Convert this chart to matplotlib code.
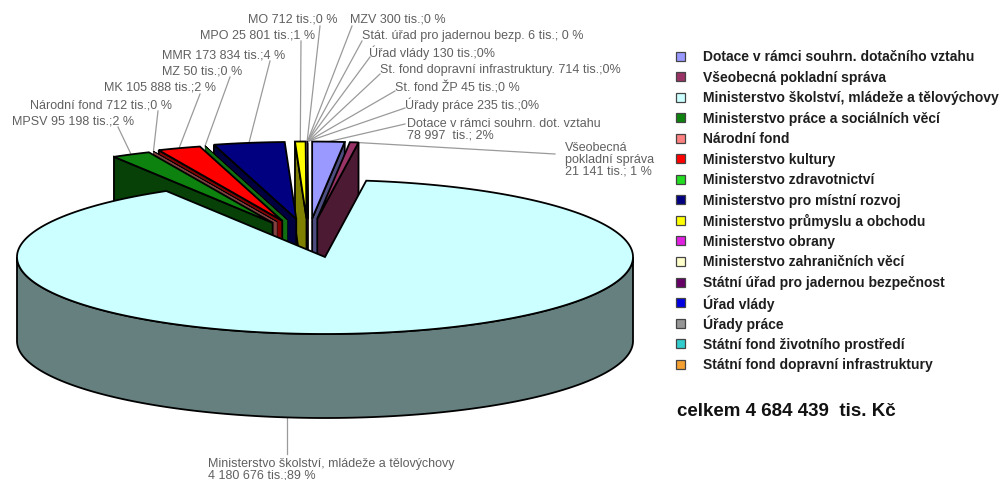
import numpy as np
import matplotlib
matplotlib.use("Agg")
import matplotlib.pyplot as plt
from matplotlib.patches import Polygon, Rectangle
from matplotlib.colors import to_rgb

plt.rcParams['font.family'] = ['Liberation Sans', 'DejaVu Sans']

# --- data (tis. Kč), order of slices clockwise from 12 o'clock ---
kategorie = [
    "Dotace v rámci souhrn. dotačního vztahu",
    "Všeobecná pokladní správa",
    "Ministerstvo školství, mládeže a tělovýchovy",
    "Ministerstvo práce a sociálních věcí",
    "Národní fond",
    "Ministerstvo kultury",
    "Ministerstvo zdravotnictví",
    "Ministerstvo pro místní rozvoj",
    "Ministerstvo průmyslu a obchodu",
    "Ministerstvo obrany",
    "Ministerstvo zahraničních věcí",
    "Státní úřad pro jadernou bezpečnost",
    "Úřad vlády",
    "Úřady práce",
    "Státní fond životního prostředí",
    "Státní fond dopravní infrastruktury",
]
hodnoty = [78997, 21141, 4180676, 95198, 712, 105888, 50, 173834,
           25801, 712, 300, 6, 130, 235, 45, 714]
barvy = ["#9999FF", "#993366", "#CCFFFF", "#0E820E", "#FF8080", "#FF0000",
         "#22DD22", "#000080", "#FFFF00", "#E020E0", "#FFFFCC", "#660066",
         "#0000E0", "#969696", "#33CCCC", "#F5A030"]
popisky = [
    "Dotace v rámci souhrn. dot. vztahu\n78 997  tis.; 2%",
    "Všeobecná\npokladní správa\n21 141 tis.; 1 %",
    "Ministerstvo školství, mládeže a tělovýchovy\n4 180 676 tis.;89 %",
    "MPSV 95 198 tis.;2 %",
    "Národní fond 712 tis.;0 %",
    "MK 105 888 tis.;2 %",
    "MZ 50 tis.;0 %",
    "MMR 173 834 tis.;4 %",
    "MPO 25 801 tis.;1 %",
    "MO 712 tis.;0 %",
    "MZV 300 tis.;0 %",
    "Stát. úřad pro jadernou bezp. 6 tis.; 0 %",
    "Úřad vlády 130 tis.;0%",
    "Úřady práce 235 tis.;0%",
    "St. fond ŽP 45 tis.;0 %",
    "St. fond dopravní infrastruktury. 714 tis.;0%",
]
# label text anchor (left, center) and leader start point, in pixels
pozice_popisku = [(407, 130), (565, 160), (208, 470), (12, 121), (30, 105),
                  (104, 88), (162, 71), (162, 55), (200, 36), (248, 20),
                  (350, 20), (362, 36), (369, 53), (405, 105), (395, 88),
                  (380, 70)]
start_cary = [(405, 125), (555, 155), (287, 455), (118, 128), (158, 112),
              (200, 95), (230, 78), (270, 62), (301, 42), (320, 27),
              (352, 27), (362, 42), (370, 58), (405, 109), (395, 92),
              (380, 75)]

# --- geometry of the 3D pie (pixels) ---
cx, cy = 325, 258
a, b = 308, 77
hloubka = 84
vybuch_x, vybuch_y, posun_x = 0.25, 0.5, -0.055
velky = int(np.argmax(hodnoty))

celkem = sum(hodnoty)
uhly = 360.0 * np.array(hodnoty) / celkem
konec = 90 - np.cumsum(uhly)
zacatek = konec + uhly


def bod(t, r, off, z):
    t = np.radians(t)
    x = cx + a * (r * np.cos(t) + off[0])
    y = cy - b * (r * np.sin(t) + off[1]) + hloubka * z
    return np.column_stack([np.atleast_1d(x), np.atleast_1d(y)])


def tmavsi(c, f=0.5):
    return tuple(np.array(to_rgb(c)) * f)


fig = plt.figure(figsize=(10.03, 4.81), dpi=100)
ax = fig.add_axes([0, 0, 1, 1])
ax.set_xlim(0, 1003)
ax.set_ylim(481, 0)
ax.axis('off')


def kresli_vysec(i):
    t1, t2 = konec[i], zacatek[i]
    stred = np.radians((t1 + t2) / 2)
    if i == velky:
        off = (0, 0)
    else:
        off = (vybuch_x * np.cos(stred) + posun_x, vybuch_y * np.sin(stred))
    lw = 1.3 if uhly[i] > 0.5 else 0.4
    c = barvy[i]
    # radial side faces
    for t, vid in ((t2, np.cos(np.radians(t2)) < 0), (t1, np.cos(np.radians(t1)) > 0)):
        if vid:
            pts = np.vstack([bod(0, 0, off, 0), bod(t, 1, off, 0),
                             bod(t, 1, off, 1), bod(0, 0, off, 1)])
            ax.add_patch(Polygon(pts, closed=True, fc=tmavsi(c), ec='black', lw=lw, zorder=2))
    # outer curved face (front half only)
    lo, hi = max(t1, -180), min(t2, 0)
    if hi > lo:
        tt = np.linspace(lo, hi, 200)
        pts = np.vstack([bod(tt, 1, off, 0), bod(tt[::-1], 1, off, 1)])
        ax.add_patch(Polygon(pts, closed=True, fc=tmavsi(c), ec='black', lw=lw, zorder=2))
    # top face
    tt = np.linspace(t1, t2, max(4, int(uhly[i] * 2)))
    pts = np.vstack([bod(0, 0, off, 0), bod(tt, 1, off, 0)])
    ax.add_patch(Polygon(pts, closed=True, fc=c, ec='black', lw=lw, zorder=2))
    return off


poradi = sorted([i for i in range(len(hodnoty)) if i != velky],
                key=lambda i: -np.sin(np.radians((konec[i] + zacatek[i]) / 2)))
offsety = {}
for i in poradi + [velky]:
    offsety[i] = kresli_vysec(i)

# --- labels with leader lines ---
for i, txt in enumerate(popisky):
    x0, y0 = start_cary[i]
    if i == velky:
        t = -np.degrees(np.arccos((x0 - cx) / a))
        kon = bod(t, 1, (0, 0), 1)[0]
    else:
        stred = (konec[i] + zacatek[i]) / 2
        kon = bod(stred, 1, offsety[i], 0)[0]
    ax.plot([x0, kon[0]], [y0, kon[1]], color='#9a9a9a', lw=0.9, zorder=1)
    ax.text(pozice_popisku[i][0], pozice_popisku[i][1], txt, fontsize=9,
            color='#606060', ha='left', va='center', linespacing=1.0, zorder=3)

# --- legend ---
for k, (nazev, c) in enumerate(zip(kategorie, barvy)):
    y = 57 + k * 20.55
    ax.add_patch(Rectangle((676, y - 4.5), 9, 9, fc=c, ec='#444444', lw=0.9))
    ax.text(703, y, nazev, fontsize=10, fontweight='bold', color='#1e1e1e',
            ha='left', va='center')

ax.text(677, 412, "celkem 4 684 439  tis. Kč", fontsize=13.5, fontweight='bold',
        color='#111111', ha='left', va='center')

fig.savefig("out.png", dpi=100)
